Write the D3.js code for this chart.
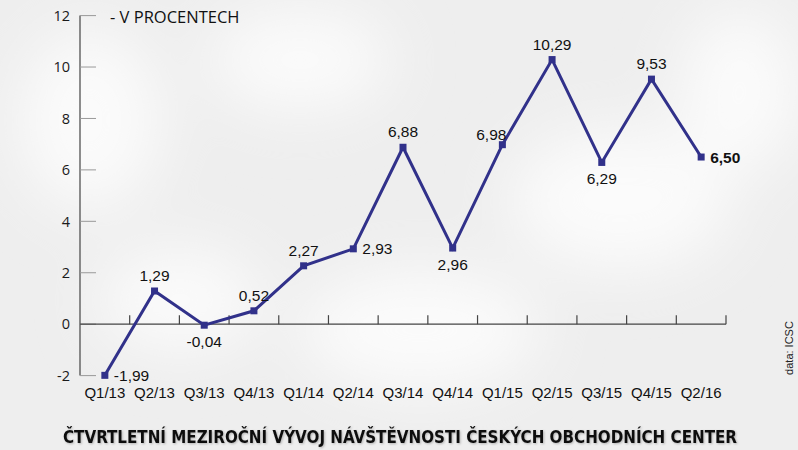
<!DOCTYPE html>
<html><head><meta charset="utf-8">
<script src="https://cdn.jsdelivr.net/npm/d3@7/dist/d3.min.js"></script>
<style>
html,body{margin:0;padding:0;background:#f1f1f1;}
svg{display:block;}
</style></head>
<body>
<svg id="chart" width="798" height="450"></svg>
<script>
const categories = ["Q1/13","Q2/13","Q3/13","Q4/13","Q1/14","Q2/14","Q3/14","Q4/14","Q1/15","Q2/15","Q3/15","Q4/15","Q2/16"];
const values = [-1.99, 1.29, -0.04, 0.52, 2.27, 2.93, 6.88, 2.96, 6.98, 10.29, 6.29, 9.53, 6.50];
const labelPos = ["right","above","below","above","above","right","above","below","upleft","above","below","above","rightbold"];
const yTicks = [-2, 0, 2, 4, 6, 8, 10, 12];
const unitLabel = "- V PROCENTECH";
const title = "ČTVRTLETNÍ MEZIROČNÍ VÝVOJ NÁVŠTĚVNOSTI ČESKÝCH OBCHODNÍCH CENTER";
const source = "data: ICSC";

const svg = d3.select("#chart");
const W = 798, H = 450;

const defs = svg.append("defs");
const blur = defs.append("filter").attr("id","blur").attr("x","-50%").attr("y","-50%").attr("width","200%").attr("height","200%");
blur.append("feGaussianBlur").attr("stdDeviation", 30);
const sh = defs.append("filter").attr("id","tshadow");
sh.append("feDropShadow").attr("dx",1).attr("dy",1).attr("stdDeviation",1).attr("flood-color","#000").attr("flood-opacity",0.25);

svg.append("rect").attr("width",W).attr("height",H).attr("fill","#eeeeee");
const blobs = svg.append("g").attr("filter","url(#blur)").attr("fill","#fbfbfb");
[[90,120,70,90],[300,60,90,50],[620,200,110,70],[420,330,120,60],[740,90,60,80],[180,300,80,50]].forEach(b=>{
  blobs.append("ellipse").attr("cx",b[0]).attr("cy",b[1]).attr("rx",b[2]).attr("ry",b[3]);
});

const x = d3.scaleBand().domain(categories).range([80, 726]);
const y = d3.scaleLinear().domain([-2, 12]).range([375.6, 15.6]);

// y axis
const yAxis = svg.append("g");
yAxis.append("line").attr("x1",80).attr("x2",80).attr("y1",y(12)).attr("y2",y(-2)).attr("stroke","#444").attr("stroke-width",1.2);
yAxis.selectAll("line.tk").data(yTicks).join("line").attr("class","tk")
  .attr("x1",80).attr("x2",96).attr("y1",d=>y(d)).attr("y2",d=>y(d)).attr("stroke","#999").attr("stroke-width",1);
yAxis.selectAll("text").data(yTicks).join("text")
  .attr("x",70).attr("y",d=>y(d)).attr("dy","0.36em").attr("text-anchor","end")
  .attr("font-family","'Open Sans', sans-serif").attr("font-size",14.5).attr("fill","#1a1a1a")
  .text(d=>d);

// x axis
const xAxis = svg.append("g");
xAxis.append("line").attr("x1",80).attr("x2",726).attr("y1",y(0)).attr("y2",y(0)).attr("stroke","#444").attr("stroke-width",1.2);
xAxis.selectAll("line.tk").data(categories).join("line").attr("class","tk")
  .attr("x1",d=>x(d)+x.step()).attr("x2",d=>x(d)+x.step())
  .attr("y1",y(0)-9).attr("y2",y(0)).attr("stroke","#444").attr("stroke-width",1.2);
xAxis.selectAll("text").data(categories).join("text")
  .attr("x",d=>x(d)+x.bandwidth()/2).attr("y",398).attr("text-anchor","middle")
  .attr("font-family","'Liberation Sans', Arial, sans-serif").attr("font-size",15).attr("fill","#111")
  .text(d=>d);

// line
const cx = (d,i)=>x(categories[i]) + x.bandwidth()/2;
const line = d3.line().x((d,i)=>cx(d,i)).y(d=>y(d));
svg.append("path").datum(values).attr("d",line).attr("fill","none")
  .attr("stroke","#31318a").attr("stroke-width",3).attr("stroke-linejoin","miter");
svg.selectAll("rect.pt").data(values).join("rect").attr("class","pt")
  .attr("x",(d,i)=>cx(d,i)-3.5).attr("y",d=>y(d)-3.5).attr("width",7).attr("height",7).attr("fill","#31318a");

// value labels
const fmt = v => v.toFixed(2).replace(".",",");
svg.selectAll("text.val").data(values).join("text").attr("class","val")
  .attr("font-family","'Liberation Sans', Arial, sans-serif").attr("font-size",15.5).attr("fill","#111")
  .attr("font-weight",(d,i)=>labelPos[i]==="rightbold"?"bold":"normal")
  .attr("text-anchor",(d,i)=>{const p=labelPos[i]; return p.startsWith("right")?"start":(p==="upleft"?"end":"middle");})
  .attr("x",(d,i)=>{const p=labelPos[i]; const c=cx(d,i); return p.startsWith("right")?c+9:(p==="upleft"?c+4:c);})
  .attr("y",(d,i)=>{const p=labelPos[i]; const c=y(d);
    if(p==="above") return c-10;
    if(p==="below") return c+22;
    if(p==="upleft") return c-5;
    return c+5.5;})
  .text(d=>fmt(d));

// unit label
svg.append("text").attr("x",110).attr("y",23).attr("font-family","'Open Sans', sans-serif")
  .attr("font-size",16.5).attr("fill","#111").text(unitLabel);

// source
svg.append("text").attr("transform","translate(793,348) rotate(-90)").attr("text-anchor","middle")
  .attr("font-family","'Liberation Sans', Arial, sans-serif").attr("font-size",11).attr("fill","#222").text(source);

// title
svg.append("text").attr("x",400).attr("y",443).attr("text-anchor","middle")
  .attr("font-family","'DejaVu Sans Condensed', 'DejaVu Sans', sans-serif").attr("font-weight","bold").attr("font-stretch","condensed")
  .attr("font-size",18).attr("fill","#111").attr("filter","url(#tshadow)")
  .attr("textLength",674).attr("lengthAdjust","spacingAndGlyphs")
  .text(title);
</script>
</body></html>
